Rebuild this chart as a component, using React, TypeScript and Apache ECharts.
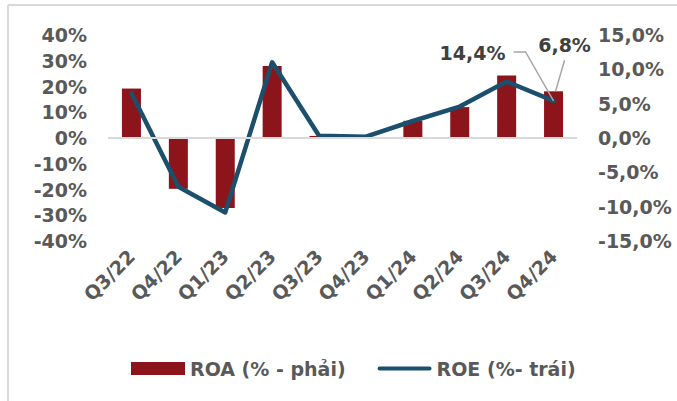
import React, { useEffect, useRef } from "react";
import * as echarts from "echarts";

const categories = ["Q3/22", "Q4/22", "Q1/23", "Q2/23", "Q3/23", "Q4/23", "Q1/24", "Q2/24", "Q3/24", "Q4/24"];
const roa = [7.2, -7.4, -10.2, 10.5, 0.3, 0.1, 2.5, 4.5, 9.1, 6.8];
const roe = [17.4, -18.9, -28.9, 29.4, 0.9, 0.5, 6.6, 12.2, 21.9, 14.4];
const leftTicks = [-40, -30, -20, -10, 0, 10, 20, 30, 40];
const rightTicks = [-15, -10, -5, 0, 5, 10, 15];
const seriesNames = ["ROA (% - phải)", "ROE (%- trái)"];

const FONT = "'DejaVu Sans', 'Noto Sans', sans-serif";
const GRAY = "#595959";
const LEADER = "#A6A6A6";
const LINE_ICON =
  "path://M0,0h0.01v0.01h-0.01z M2,4.5h50a2,2 0 0 1 0,4h-50a2,2 0 0 1 0,-4z M54,13h0.01v-0.01h-0.01z";

const fmtComma = (v: number) => `${v.toFixed(1).replace(".", ",")}%`;

export default function App() {
  const ref = useRef<HTMLDivElement>(null);
  useEffect(() => {
    if (!ref.current) return;
    const chart = echarts.init(ref.current, undefined, { renderer: "svg" });
    const last = categories.length - 1;
    const valueLabel = (v: number) => ({
      show: true,
      position: "top",
      formatter: fmtComma(v),
      fontFamily: FONT,
      fontWeight: "bold",
      fontSize: 19,
      color: "#404040",
    });
    chart.setOption({
      animation: false,
      backgroundColor: "#ffffff",
      textStyle: { fontFamily: FONT },
      grid: { left: 108, right: 100, top: 35, bottom: 160 },
      legend: {
        left: 126,
        top: 354,
        itemWidth: 54,
        itemHeight: 13,
        itemGap: 32,
        symbolKeepAspect: false,
        textStyle: { fontFamily: FONT, fontWeight: "bold", fontSize: 19, color: GRAY },
        data: [
          { name: seriesNames[0], icon: "rect" },
          { name: seriesNames[1], icon: LINE_ICON },
        ],
      },
      xAxis: {
        type: "category",
        data: categories,
        axisLine: { show: false },
        axisTick: { show: false },
        axisLabel: {
          rotate: 45,
          interval: 0,
          margin: 12,
          color: GRAY,
          fontWeight: "bold",
          fontSize: 19,
          fontFamily: FONT,
        },
      },
      yAxis: [
        {
          type: "value",
          min: leftTicks[0],
          max: leftTicks[leftTicks.length - 1],
          interval: 10,
          position: "left",
          splitLine: { show: false },
          axisLine: { show: false },
          axisTick: { show: false },
          axisLabel: {
            margin: 21,
            color: GRAY,
            fontWeight: "bold",
            fontSize: 19,
            fontFamily: FONT,
            formatter: (v: number) => `${v}%`,
          },
        },
        {
          type: "value",
          min: rightTicks[0],
          max: rightTicks[rightTicks.length - 1],
          interval: 5,
          position: "right",
          splitLine: { show: false },
          axisLine: { show: false },
          axisTick: { show: false },
          axisLabel: {
            margin: 21,
            color: GRAY,
            fontWeight: "bold",
            fontSize: 19,
            fontFamily: FONT,
            formatter: fmtComma,
          },
        },
      ],
      series: [
        {
          name: seriesNames[0],
          type: "bar",
          yAxisIndex: 1,
          barWidth: 19,
          itemStyle: { color: "#8C151B" },
          data: roa.map((v, i) => (i === last ? { value: v, label: valueLabel(v) } : v)),
          labelLayout: (p: any) => (p.dataIndex === last ? { dx: 11, dy: -32, hideOverlap: false } : {}),
          markLine: {
            silent: true,
            symbol: "none",
            label: { show: false },
            lineStyle: { color: "#d9d9d9", width: 2, type: "solid" },
            data: [{ yAxis: 0 }],
          },
          z: 2,
        },
        {
          name: seriesNames[1],
          type: "line",
          yAxisIndex: 0,
          symbol: "circle",
          symbolSize: 0,
          showSymbol: true,
          lineStyle: { color: "#1B4F6C", width: 4.5, cap: "round", join: "round" },
          itemStyle: { color: "#1B4F6C" },
          data: roe.map((v, i) => (i === last ? { value: v, label: valueLabel(v) } : v)),
          labelLayout: (p: any) => (p.dataIndex === last ? { dx: -81, dy: -33, hideOverlap: false } : {}),
          z: 3,
        },
      ],
    });

    const roeAnchor = chart.convertToPixel({ xAxisIndex: 0, yAxisIndex: 0 }, [last, roe[last]]) as number[];
    const roaAnchor = chart.convertToPixel({ xAxisIndex: 0, yAxisIndex: 1 }, [last, roa[last]]) as number[];
    const [ex, ey] = roeAnchor;
    const [bx, by] = roaAnchor;
    chart.setOption({
      graphic: [
        { type: "line", shape: { x1: 8, y1: 5, x2: 677, y2: 5 }, style: { stroke: "#d9d9d9", lineWidth: 2 } },
        { type: "line", shape: { x1: 8, y1: 5, x2: 8, y2: 401 }, style: { stroke: "#d9d9d9", lineWidth: 2 } },
        {
          type: "polyline",
          z: 10,
          shape: { points: [[ex - 40, ey - 49], [ex - 28, ey - 49], [ex, ey]] },
          style: { stroke: LEADER, lineWidth: 1.5, fill: "none" },
        },
        {
          type: "line",
          z: 10,
          shape: { x1: bx + 11, y1: by - 31, x2: bx + 2, y2: by },
          style: { stroke: LEADER, lineWidth: 1.5 },
        },
      ],
    });
    return () => chart.dispose();
  }, []);
  return <div ref={ref} style={{ position: "fixed", left: 0, top: 0, width: 677, height: 401 }} />;
}
